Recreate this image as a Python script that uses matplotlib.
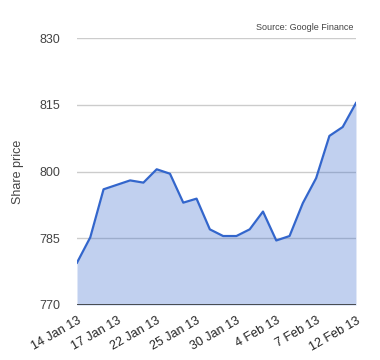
import matplotlib
matplotlib.use("Agg")
import matplotlib.pyplot as plt

plt.rcParams['font.family'] = ['Liberation Sans', 'DejaVu Sans']

# trading days shown in the chart
dates = ['14 Jan 13', '15 Jan 13', '16 Jan 13', '17 Jan 13', '18 Jan 13', '21 Jan 13',
         '22 Jan 13', '23 Jan 13', '24 Jan 13', '25 Jan 13', '28 Jan 13', '29 Jan 13',
         '30 Jan 13', '31 Jan 13', '1 Feb 13', '4 Feb 13', '5 Feb 13', '6 Feb 13',
         '7 Feb 13', '8 Feb 13', '11 Feb 13', '12 Feb 13']
prices = [779.5, 785.2, 796.0, 797.0, 798.0, 797.5, 800.5, 799.5, 793.0, 793.9, 787.0,
          785.5, 785.5, 787.0, 791.0, 784.5, 785.5, 792.9, 798.5, 808.0, 810.0, 815.4]
y_ticks = [770, 785, 800, 815, 830]
label_every = 3

x = list(range(len(dates)))

fig = plt.figure(figsize=(3.8, 3.6), dpi=100)
ax = fig.add_axes([0.2026, 0.1528, 0.7342, 0.7416])

# gridlines under the area
for t in y_ticks[1:]:
    ax.axhline(t, color='#cccccc', lw=1, zorder=0)

ax.fill_between(x, prices, y_ticks[0], color='#3366cc', alpha=0.3, lw=0, zorder=1)
ax.plot(x, prices, color='#3366cc', lw=1.6, zorder=2, solid_joinstyle='round')
ax.axhline(y_ticks[0], color='#333333', lw=1.2, zorder=3)

ax.set_xlim(0, len(dates) - 1)
ax.set_ylim(y_ticks[0], y_ticks[-1])
ax.set_yticks(y_ticks)
ax.set_yticklabels([str(t) for t in y_ticks], fontsize=9, color='#444444')
ax.set_xticks(x[::label_every])
ax.set_xticklabels(dates[::label_every], rotation=30, ha='right', rotation_mode='anchor',
                   fontsize=9, color='#222222')
for lbl in ax.get_xticklabels():
    lbl.set_x(lbl.get_position()[0] + 0.25)
ax.tick_params(axis='both', length=0)
ax.tick_params(axis='y', pad=12)
ax.tick_params(axis='x', pad=7)
for s in ax.spines.values():
    s.set_visible(False)

ax.set_ylabel('Share price', fontsize=9, color='#444444', labelpad=11)

fig.text(0.929, 0.923, 'Source: Google Finance', ha='right', va='center',
         fontsize=6.5, color='#444444')

fig.savefig('out.png', dpi=100)
